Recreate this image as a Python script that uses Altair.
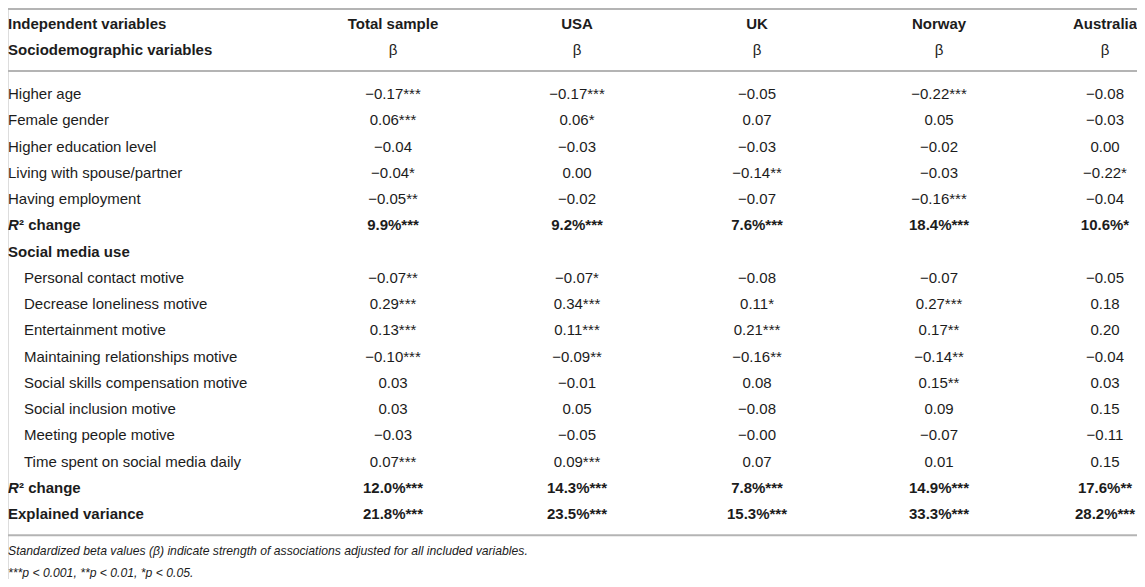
import altair as alt
import pandas as pd

# ---------------- data ----------------
columns = ["Total sample", "USA", "UK", "Norway", "Australia"]
header_left = ["Independent variables", "Sociodemographic variables"]
beta_label = "β"

socio_labels = ["Higher age", "Female gender", "Higher education level",
                "Living with spouse/partner", "Having employment"]
socio_total = [-0.17, 0.06, -0.04, -0.04, -0.05]
socio_total_sig = ["***", "***", "", "*", "**"]
socio_usa = [-0.17, 0.06, -0.03, 0.00, -0.02]
socio_usa_sig = ["***", "*", "", "", ""]
socio_uk = [-0.05, 0.07, -0.03, -0.14, -0.07]
socio_uk_sig = ["", "", "", "**", ""]
socio_norway = [-0.22, 0.05, -0.02, -0.03, -0.16]
socio_norway_sig = ["***", "", "", "", "***"]
socio_aus = [-0.08, -0.03, 0.00, -0.22, -0.04]
socio_aus_sig = ["", "", "", "*", ""]
r2_socio = [9.9, 9.2, 7.6, 18.4, 10.6]
r2_socio_sig = ["***", "***", "***", "***", "*"]

section_social = "Social media use"
social_labels = ["Personal contact motive", "Decrease loneliness motive",
                 "Entertainment motive", "Maintaining relationships motive",
                 "Social skills compensation motive", "Social inclusion motive",
                 "Meeting people motive", "Time spent on social media daily"]
social_total = [-0.07, 0.29, 0.13, -0.10, 0.03, 0.03, -0.03, 0.07]
social_total_sig = ["**", "***", "***", "***", "", "", "", "***"]
social_usa = [-0.07, 0.34, 0.11, -0.09, -0.01, 0.05, -0.05, 0.09]
social_usa_sig = ["*", "***", "***", "**", "", "", "", "***"]
social_uk = [-0.08, 0.11, 0.21, -0.16, 0.08, -0.08, -0.00, 0.07]
social_uk_sig = ["", "*", "***", "**", "", "", "", ""]
social_norway = [-0.07, 0.27, 0.17, -0.14, 0.15, 0.09, -0.07, 0.01]
social_norway_sig = ["", "***", "**", "**", "**", "", "", ""]
social_aus = [-0.05, 0.18, 0.20, -0.04, 0.03, 0.15, -0.11, 0.15]
social_aus_sig = ["", "", "", "", "", "", "", ""]
r2_social = [12.0, 14.3, 7.8, 14.9, 17.6]
r2_social_sig = ["***", "***", "***", "***", "**"]

explained_label = "Explained variance"
explained = [21.8, 23.5, 15.3, 33.3, 28.2]
explained_sig = ["***", "***", "***", "***", "***"]

footnotes = ["Standardized beta values (β) indicate strength of associations adjusted for all included variables.",
             "***p < 0.001, **p < 0.01, *p < 0.05."]

# ---------------- layout (slots) ----------------
BODY_START = 2.69
TOP_LINE = -0.72
MID_LINE = 1.82
BOTTOM_LINE = 19.49
FOOT_SLOTS = [20.09, 20.93]


def fmt_beta(v, s):
    t = f"{v:.2f}"
    if t.startswith("-"):
        t = "−" + t[1:]
    return t + s


def fmt_pct(v, s):
    return f"{v:.1f}%" + s


cells = []
# header
cells.append(dict(slot=0, col=0, text=header_left[0], kind="headlabel"))
cells.append(dict(slot=1, col=0, text=header_left[1], kind="headlabel"))
for j, c in enumerate(columns):
    cells.append(dict(slot=0, col=j + 1, text=c, kind="head"))
    cells.append(dict(slot=1, col=j + 1, text=beta_label, kind="beta"))

socio_cols = [(socio_total, socio_total_sig), (socio_usa, socio_usa_sig),
              (socio_uk, socio_uk_sig), (socio_norway, socio_norway_sig),
              (socio_aus, socio_aus_sig)]
social_cols = [(social_total, social_total_sig), (social_usa, social_usa_sig),
               (social_uk, social_uk_sig), (social_norway, social_norway_sig),
               (social_aus, social_aus_sig)]

r = 0
for i, lab in enumerate(socio_labels):
    s = BODY_START + r
    cells.append(dict(slot=s, col=0, text=lab, kind="label"))
    for j, (vals, sig) in enumerate(socio_cols):
        cells.append(dict(slot=s, col=j + 1, text=fmt_beta(vals[i], sig[i]), kind="val"))
    r += 1

s = BODY_START + r
cells.append(dict(slot=s, col=0, text="R", kind="rlabel"))
cells.append(dict(slot=s, col=0, text="² change", kind="r2label"))
for j in range(5):
    cells.append(dict(slot=s, col=j + 1, text=fmt_pct(r2_socio[j], r2_socio_sig[j]), kind="valbold"))
r += 1

s = BODY_START + r
cells.append(dict(slot=s, col=0, text=section_social, kind="section"))
r += 1

for i, lab in enumerate(social_labels):
    s = BODY_START + r
    cells.append(dict(slot=s, col=0, text=lab, kind="indent"))
    for j, (vals, sig) in enumerate(social_cols):
        cells.append(dict(slot=s, col=j + 1, text=fmt_beta(vals[i], sig[i]), kind="val"))
    r += 1

s = BODY_START + r
cells.append(dict(slot=s, col=0, text="R", kind="rlabel"))
cells.append(dict(slot=s, col=0, text="² change", kind="r2label"))
for j in range(5):
    cells.append(dict(slot=s, col=j + 1, text=fmt_pct(r2_social[j], r2_social_sig[j]), kind="valbold"))
r += 1

s = BODY_START + r
cells.append(dict(slot=s, col=0, text=explained_label, kind="section"))
for j in range(5):
    cells.append(dict(slot=s, col=j + 1, text=fmt_pct(explained[j], explained_sig[j]), kind="valbold"))

for k, f in enumerate(footnotes):
    cells.append(dict(slot=FOOT_SLOTS[k], col=0, text=f, kind="foot"))

df = pd.DataFrame(cells)
lines_df = pd.DataFrame({"slot": [TOP_LINE, MID_LINE, BOTTOM_LINE]})

# ---------------- chart ----------------
W, H = 1129, 571
FONT = "Liberation Sans"
FS = 15
COLOR = "#1c1c1c"

xscale = alt.Scale(domain=[0, 1, 2, 3, 4, 5], range=[0, 385, 569, 749, 931, 1097], nice=False, zero=False)
yscale = alt.Scale(domain=[TOP_LINE, 0, MID_LINE, BODY_START, FOOT_SLOTS[1]],
                   range=[1, 16, 63, 86, 565], nice=False, zero=False)

X = alt.X("col:Q", scale=xscale, axis=None)
Y = alt.Y("slot:Q", scale=yscale, axis=None)

base = alt.Chart(df)


def layer(kind, **mk):
    return base.transform_filter(alt.datum.kind == kind).mark_text(
        font=FONT, color=COLOR, baseline="middle", **mk
    ).encode(x=X, y=Y, text="text:N")


rules = alt.Chart(lines_df).mark_rule(color="#b4b4b4", strokeWidth=2).encode(
    y=Y, x=alt.value(0), x2=alt.value(W)
)

layers = [
    rules,
    layer("headlabel", fontSize=FS, fontWeight="bold", align="left"),
    layer("head", fontSize=FS, fontWeight="bold", align="center"),
    layer("beta", fontSize=FS, align="center"),
    layer("label", fontSize=FS, align="left"),
    layer("indent", fontSize=FS, align="left", dx=16),
    layer("section", fontSize=FS, fontWeight="bold", align="left"),
    layer("rlabel", fontSize=FS, fontWeight="bold", fontStyle="italic", align="left"),
    layer("r2label", fontSize=FS, fontWeight="bold", align="left", dx=11),
    layer("val", fontSize=FS, align="center"),
    layer("valbold", fontSize=FS, fontWeight="bold", align="center"),
    layer("foot", fontSize=12.2, fontStyle="italic", align="left"),
]

chart = alt.layer(*layers).properties(
    width=W, height=H, padding=0, autosize=alt.AutoSizeParams(type="none")
).configure_view(stroke=None).configure(background="white")

chart.save("out.html", embed_options={"renderer": "svg", "actions": False})
